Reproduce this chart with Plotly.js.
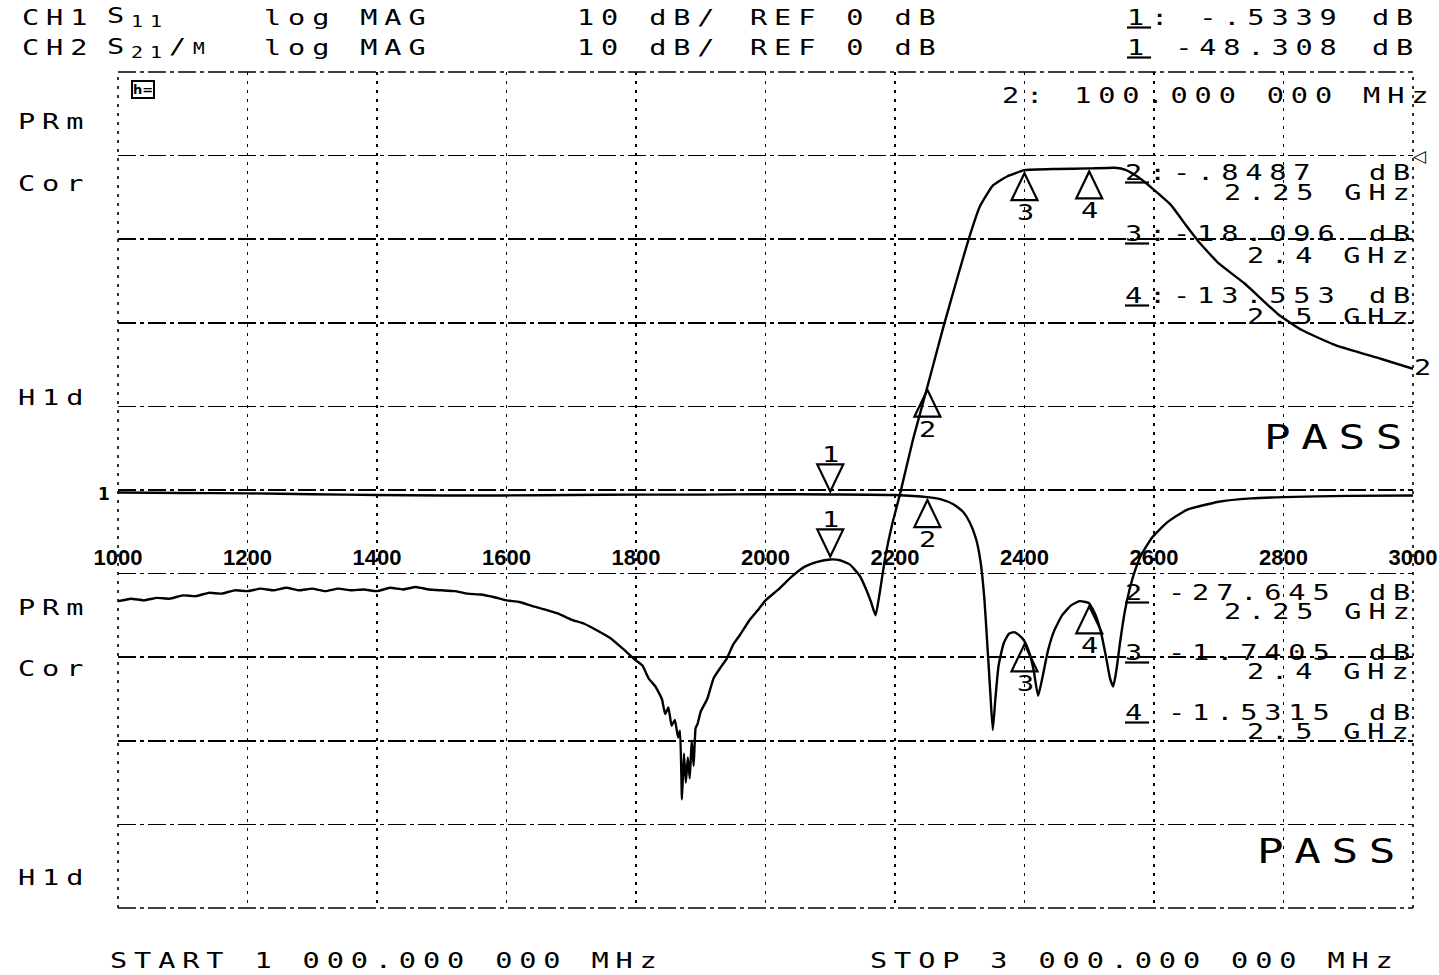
<!DOCTYPE html>
<html><head><meta charset="utf-8">
<script src="https://cdn.plot.ly/plotly-3.0.1.min.js"></script>
<style>
html,body{margin:0;padding:0;background:#fff;}
#chart{width:1439px;height:975px;}
.annotation-text[style*="Mono"]{letter-spacing:0.24em;transform-box:fill-box;transform-origin:0 50%;transform:scaleX(1.3);}
</style></head>
<body><div id="chart"></div>
<script>
// ---- DATA ----
const freqS21 = [1000,1020,1040,1060,1080,1100,1120,1140,1160,1180,1200,1220,1240,1260,1280,1300,1320,1340,1360,1380,1400,1420,1440,1460,1480,1500,1520,1540,1560,1580,1600,1620,1640,1660,1680,1700,1720,1740,1760,1780,1800,1810,1820,1830,1840,1845,1850,1855,1860,1865,1868,1871,1874,1877,1880,1883,1886,1889,1892,1895,1900,1910,1920,1930,1940,1950,1960,1975,1990,2000,2020,2040,2060,2080,2100,2115,2130,2145,2155,2163,2170,2176,2185,2195,2208,2228,2250,2274,2296,2313,2331,2351,2373,2400,2450,2500,2540,2556,2576,2600,2626,2650,2670,2700,2740,2792,2829,2881,2950,3000];
const dbS21 = [-53.3,-53.0,-53.2,-52.9,-53.0,-52.6,-52.7,-52.3,-52.4,-52.0,-52.1,-51.8,-52.0,-51.7,-52.0,-51.8,-52.1,-51.8,-52.0,-51.9,-52.1,-51.7,-51.9,-51.6,-51.9,-52.0,-52.1,-52.4,-52.5,-52.8,-53.2,-53.4,-53.9,-54.3,-54.8,-55.5,-56.0,-56.8,-57.7,-59.0,-60.4,-61.0,-62.6,-63.5,-65.0,-66.8,-66.0,-68.2,-67.5,-69.6,-68.8,-77.0,-71.5,-75.0,-72.0,-74.5,-70.0,-73.0,-68.5,-68.0,-66.5,-65.0,-62.5,-61.3,-60.2,-58.5,-57.4,-55.6,-54.2,-53.2,-51.9,-50.4,-49.2,-48.6,-48.308,-48.4,-48.9,-50.2,-51.8,-53.4,-55.0,-52.5,-48.0,-44.3,-40.4,-33.9,-27.645,-20.7,-14.7,-10.2,-6.1,-3.6,-2.5,-1.7405,-1.6,-1.5315,-1.45,-1.7,-2.6,-4.1,-5.9,-8.4,-10.4,-12.9,-15.3,-19.0,-20.9,-22.7,-24.3,-25.5];

const freqS11 = [1000,1100,1200,1300,1400,1500,1600,1700,1800,1900,2000,2100,2200,2250,2270,2290,2305,2315,2325,2332,2338,2343,2347,2351,2355,2360,2368,2376,2384,2392,2400,2408,2414,2421,2428,2436,2445,2458,2472,2485,2494,2500,2510,2518,2526,2532,2537,2542,2548,2555,2562,2570,2580,2598,2620,2650,2700,2750,2800,2900,3000];
const dbS11 = [-0.3,-0.35,-0.4,-0.5,-0.6,-0.65,-0.65,-0.6,-0.55,-0.55,-0.5,-0.5339,-0.6,-0.8487,-1.1,-1.7,-2.6,-3.8,-5.8,-8.5,-13.0,-19.0,-24.0,-28.7,-25.0,-21.0,-18.3,-17.2,-17.0,-17.4,-18.096,-19.6,-21.5,-24.6,-22.3,-19.3,-17.0,-15.0,-13.8,-13.3,-13.4,-13.553,-15.0,-17.0,-20.0,-22.5,-23.5,-21.5,-18.0,-14.5,-12.0,-9.8,-7.8,-5.6,-3.9,-2.4,-1.4,-1.0,-0.85,-0.7,-0.65];

const markerNames = ['1','2','3','4'];
const markerFreq = [2100,2250,2400,2500];
const markerS21 = [-48.308,-27.645,-1.7405,-1.5315];
const markerS11 = [-0.5339,-0.8487,-18.096,-13.553];
const readS11 = ['-.8487','-18.096','-13.553'];
const readS21 = ['-27.645','-1.7405','-1.5315'];
const readFreq = ['2.25 GHz','2.4 GHz','2.5 GHz'];
const tickVals = [1000,1200,1400,1600,1800,2000,2200,2400,2600,2800,3000];
const tickText = ['1000','1200','1400','1600','1800','2000','2200','2400','2600','2800','3000'];

// ---- LAYOUT HELPERS ----
const L=118, R=1413, TOP=72, BOT=908;
const MONO='DejaVu Sans Mono';
function T(text,x,y,size,xa){
  return {xref:'paper',yref:'paper',x:(x-L)/(R-L),y:(BOT-y)/(BOT-TOP),
    xanchor:xa||'left',yanchor:'middle',text:text,showarrow:false,
    font:{family:MONO,size:size||22,color:'#000'}};
}
const ann=[];
// header
ann.push(T('CH1',20,17)); ann.push(T('S<sub>11</sub>',105,17));
ann.push(T('log MAG',262,17)); ann.push(T('10 dB/',575,17));
ann.push(T('REF 0 dB',748,17)); ann.push(T('<u>1</u>: -.5339',1125,17)); ann.push(T('dB',1370,17));
ann.push(T('CH2',20,47)); ann.push(T('S<sub>21</sub>/<span style="font-size:15px">M</span>',105,47));
ann.push(T('log MAG',262,47)); ann.push(T('10 dB/',575,47));
ann.push(T('REF 0 dB',748,47)); ann.push(T('<u>1</u> -48.308',1125,47)); ann.push(T('dB',1370,47));
// left status labels
[['PRm',121],['Cor',183],['H1d',397],['PRm',607],['Cor',668],['H1d',877]].forEach(function(a){ann.push(T(a[0],16,a[1]));});
// icon
ann.push({xref:'paper',yref:'paper',x:(131-L)/(R-L),y:(BOT-89)/(BOT-TOP),xanchor:'left',yanchor:'middle',
  text:'<b>h=</b>',showarrow:false,font:{family:'DejaVu Sans',size:13,color:'#000'},bordercolor:'#000',borderwidth:2,borderpad:0});
ann.push(T('2: 100.000 000 MHz',1000,95));
// marker readouts
const upY=[172,233,295], upY2=[192,255,316];
const loY=[592,652,712], loY2=[611,671,731];
const fX=[1222,1245,1245];
for(let i=0;i<3;i++){
  ann.push(T('<u>'+markerNames[i+1]+'</u>:',1123,upY[i]));
  ann.push(T(readS11[i],1171,upY[i]));
  ann.push(T('dB',1367,upY[i]));
  ann.push(T(readFreq[i],fX[i],upY2[i]));
  ann.push(T('<u>'+markerNames[i+1]+'</u>',1123,loY[i]));
  ann.push(T(readS21[i],1166,loY[i]));
  ann.push(T('dB',1367,loY[i]));
  ann.push(T(readFreq[i],fX[i],loY2[i]));
}
ann.push(T('PASS',1262,437,34)); ann.push(T('PASS',1255,851,34));
ann.push(T('2',1412,367));
ann.push({xref:'paper',yref:'paper',x:(1411-L)/(R-L),y:(BOT-156)/(BOT-TOP),xanchor:'left',yanchor:'middle',
  text:'◁',showarrow:false,font:{family:'DejaVu Sans',size:17,color:'#000'}});
ann.push({xref:'paper',yref:'paper',x:(104-L)/(R-L),y:(BOT-494)/(BOT-TOP),xanchor:'center',yanchor:'middle',
  text:'<b>1</b>',showarrow:false,font:{family:'DejaVu Sans',size:17,color:'#000'}});
ann.push(T('START 1 000.000 000 MHz',108,960));
ann.push(T('STOP 3 000.000 000 MHz',868,960));

// marker glyphs (triangles as pixel-sized shapes anchored at the marker values)
const shapes=[];
const UP='M0,-3L13,-30L-13,-30Z', DOWN='M0,3L13,30L-13,30Z';
function addMarker(i,val,yref){
  const down=(i===0);
  shapes.push({type:'path',xref:'x',yref:yref,xsizemode:'pixel',ysizemode:'pixel',
    xanchor:markerFreq[i],yanchor:val,path:down?DOWN:UP,
    line:{color:'#000',width:2.2},fillcolor:'rgba(0,0,0,0)'});
  ann.push({xref:'x',yref:yref,x:markerFreq[i],y:val,showarrow:false,xanchor:'center',yanchor:'middle',
    xshift:4,yshift:down?40:-42,text:markerNames[i],font:{family:MONO,size:22,color:'#000'}});
}
for(let i=0;i<4;i++){ addMarker(i,markerS21[i],'y'); addMarker(i,markerS11[i],'y2'); }

const hd='18px,4px,4px,4px', vd='3px,6px';
shapes.push(
 {type:'line',xref:'paper',yref:'paper',x0:0,x1:1,y0:1,y1:1,line:{color:'#000',width:1.6,dash:hd}},
 {type:'line',xref:'paper',yref:'paper',x0:0,x1:1,y0:0,y1:0,line:{color:'#000',width:1.6,dash:hd}},
 {type:'line',xref:'paper',yref:'paper',x0:0,x1:0,y0:0,y1:1,line:{color:'#000',width:1.6,dash:vd}},
 {type:'line',xref:'paper',yref:'paper',x0:1,x1:1,y0:0,y1:1,line:{color:'#000',width:1.6,dash:vd}}
);

const traces=[
 {x:freqS21,y:dbS21,yaxis:'y',mode:'lines',line:{color:'#000',width:2.4,shape:'spline',smoothing:0.4},hoverinfo:'skip'},
 {x:freqS11,y:dbS11,yaxis:'y2',mode:'lines',line:{color:'#000',width:2.4,shape:'spline',smoothing:0.5},hoverinfo:'skip'}
];
const layout={
  width:1439,height:975,paper_bgcolor:'#fff',plot_bgcolor:'#fff',showlegend:false,
  margin:{l:L,r:1439-R,t:TOP,b:975-BOT,pad:0},
  xaxis:{range:[1000,3000],tickvals:tickVals,ticktext:tickText,anchor:'free',position:0.438,side:'bottom',
    ticks:'',showline:false,zeroline:false,showgrid:true,gridcolor:'#000',gridwidth:1.6,griddash:vd,
    tickfont:{family:'Liberation Sans',size:22,color:'#000',weight:'bold'},fixedrange:true},
  yaxis:{range:[-90,10],tick0:0,dtick:10,showticklabels:false,ticks:'',zeroline:false,showline:false,
    showgrid:true,gridcolor:'#000',gridwidth:1.6,griddash:hd,fixedrange:true},
  yaxis2:{range:[-50,50],overlaying:'y',showgrid:false,showticklabels:false,ticks:'',zeroline:false,fixedrange:true},
  annotations:ann,shapes:shapes
};
Plotly.newPlot('chart',traces,layout,{displayModeBar:false,staticPlot:true});
</script></body></html>
